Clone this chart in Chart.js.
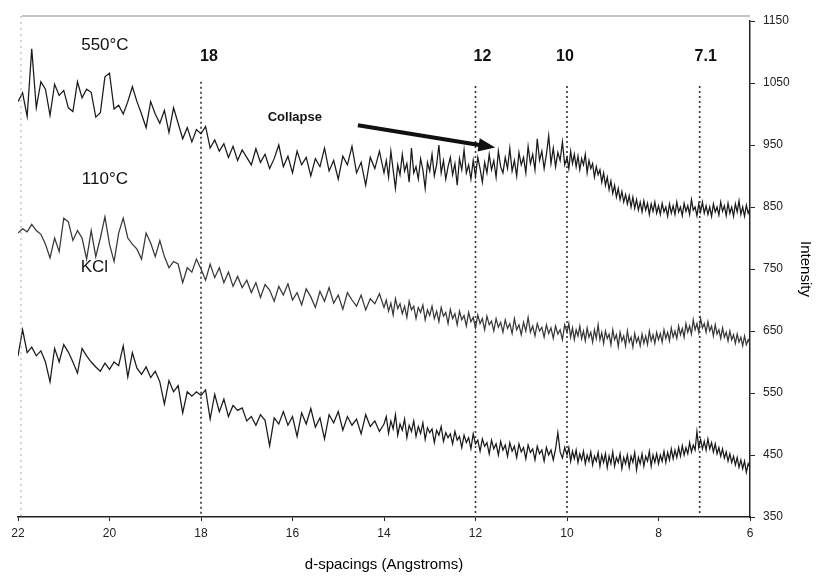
<!DOCTYPE html>
<html>
<head>
<meta charset="utf-8">
<script src="https://cdn.jsdelivr.net/npm/chart.js@4.4.1/dist/chart.umd.min.js"></script>
<style>
  html, body { margin: 0; padding: 0; background: #fff; }
  #wrap { width: 827px; height: 579px; }
</style>
</head>
<body>
<div id="wrap"><canvas id="xrd" width="827" height="579"></canvas></div>
<script>
// d-spacing positions (Angstroms), shared by all three scans
const dSpacing = [
  22, 21.9, 21.8, 21.7, 21.6, 21.5, 21.4, 21.3, 21.2, 21.1,
  21, 20.9, 20.8, 20.7, 20.6, 20.5, 20.4, 20.3, 20.2, 20.1,
  20, 19.9, 19.8, 19.7, 19.6, 19.5, 19.4, 19.3, 19.2, 19.1,
  19, 18.9, 18.8, 18.7, 18.6, 18.5, 18.4, 18.3, 18.2, 18.1,
  18, 17.9, 17.8, 17.7, 17.6, 17.5, 17.4, 17.3, 17.2, 17.1,
  17, 16.9, 16.8, 16.7, 16.6, 16.5, 16.4, 16.3, 16.2, 16.1,
  16, 15.9, 15.8, 15.7, 15.6, 15.5, 15.4, 15.3, 15.2, 15.1,
  15, 14.9, 14.8, 14.7, 14.6, 14.5, 14.4, 14.3, 14.2, 14.1,
  14, 13.95, 13.9, 13.85, 13.8, 13.75, 13.7, 13.65, 13.6, 13.55,
  13.5, 13.45, 13.4, 13.35, 13.3, 13.25, 13.2, 13.15, 13.1, 13.05,
  13, 12.95, 12.9, 12.85, 12.8, 12.75, 12.7, 12.65, 12.6, 12.55,
  12.5, 12.45, 12.4, 12.35, 12.3, 12.25, 12.2, 12.15, 12.1, 12.05,
  12, 11.95, 11.9, 11.85, 11.8, 11.75, 11.7, 11.65, 11.6, 11.55,
  11.5, 11.45, 11.4, 11.35, 11.3, 11.25, 11.2, 11.15, 11.1, 11.05,
  11, 10.95, 10.9, 10.85, 10.8, 10.75, 10.7, 10.65, 10.6, 10.55,
  10.5, 10.45, 10.4, 10.35, 10.3, 10.25, 10.2, 10.15, 10.1, 10.05,
  10, 9.96, 9.92, 9.88, 9.84, 9.8, 9.76, 9.72, 9.68, 9.64,
  9.6, 9.56, 9.52, 9.48, 9.44, 9.4, 9.36, 9.32, 9.28, 9.24,
  9.2, 9.16, 9.12, 9.08, 9.04, 9, 8.96, 8.92, 8.88, 8.84,
  8.8, 8.76, 8.72, 8.68, 8.64, 8.6, 8.56, 8.52, 8.48, 8.44,
  8.4, 8.36, 8.32, 8.28, 8.24, 8.2, 8.16, 8.12, 8.08, 8.04,
  8, 7.96, 7.92, 7.88, 7.84, 7.8, 7.76, 7.72, 7.68, 7.64,
  7.6, 7.56, 7.52, 7.48, 7.44, 7.4, 7.36, 7.32, 7.28, 7.24,
  7.2, 7.16, 7.12, 7.08, 7.04, 7, 6.96, 6.92, 6.88, 6.84,
  6.8, 6.76, 6.72, 6.68, 6.64, 6.6, 6.56, 6.52, 6.48, 6.44,
  6.4, 6.36, 6.32, 6.28, 6.24, 6.2, 6.16, 6.12, 6.08, 6.04,
  6
];

// intensities, 550 C
const int550 = [
  1020, 1034, 996, 1105, 1010, 1052, 1040, 998, 1048, 1030,
  1038, 1010, 1004, 1052, 1026, 1040, 1035, 995, 1002, 1060,
  1066, 1008, 1014, 1000, 1020, 1044, 1020, 1000, 978, 1020,
  1000, 985, 1006, 970, 1010, 985, 960, 978, 955, 975,
  968, 980, 945, 958, 940, 952, 930, 948, 925, 942,
  930, 918, 944, 922, 935, 912, 928, 950, 915, 932,
  905, 940, 918, 930, 900, 928, 915, 945, 908, 925,
  895, 932, 918, 948, 905, 922, 885, 930, 912, 940,
  905, 925, 898, 940, 910, 880, 918, 902, 935, 908,
  920, 890, 945, 905, 915, 895, 928, 910, 880, 922,
  908, 935, 900, 918, 950, 905, 925, 895, 915, 930,
  902, 920, 885, 928, 910, 942, 905, 918, 895, 925,
  900, 930, 912, 890, 922, 905, 935, 910, 925, 898,
  940, 915, 905, 930, 912, 945, 908, 925, 900, 938,
  918, 930, 905, 948, 920, 935, 910, 960, 925, 940,
  912, 935, 965, 920, 945, 915, 938, 925, 955, 918,
  930, 912, 940, 920, 935, 915, 932, 910, 928, 918,
  935, 905, 925, 912, 920, 898, 915, 902, 910, 890,
  905, 885, 898, 878, 892, 872, 885, 866, 880, 862,
  875, 858, 870, 855, 868, 850, 866, 848, 862, 845,
  858, 842, 860, 845, 856, 838, 855, 843, 858, 840,
  852, 838, 856, 842, 850, 835, 855, 840, 852, 838,
  858, 842, 850, 836, 856, 843, 852, 838, 862, 845,
  850, 836, 855, 842, 858, 840, 852, 838, 850, 835,
  855, 842, 850, 837, 858, 843, 852, 836, 856, 840,
  850, 835, 855, 842, 860, 838, 850, 835, 853, 840,
  848
];

// 110 C
const int110 = [
  808, 815, 810, 822, 812, 806, 790, 768, 800, 778,
  832, 826, 796, 812, 800, 766, 812, 770, 800, 834,
  790, 762, 808, 832, 800, 790, 782, 766, 808, 792,
  770, 796, 770, 752, 762, 758, 728, 752, 745, 766,
  750, 732, 758, 736, 752, 728, 745, 722, 738, 720,
  732, 712, 728, 704, 725, 716, 698, 722, 708, 726,
  700, 712, 692, 718, 705, 688, 714, 698, 720, 695,
  708, 685, 712, 700, 690, 708, 684, 702, 694, 710,
  688, 700, 682, 695, 676, 702, 686, 694, 678, 690,
  672, 698, 684, 690, 670, 688, 680, 692, 668, 684,
  675, 690, 670, 682, 665, 688, 674, 680, 662, 685,
  670, 678, 660, 682, 668, 675, 658, 680, 665, 672,
  655, 676, 662, 670, 652, 674, 660, 666, 650, 670,
  656, 664, 648, 668, 654, 662, 646, 670, 652, 660,
  644, 664, 650, 672, 648, 658, 642, 662, 650, 656,
  640, 660, 646, 655, 638, 658, 645, 652, 636, 660,
  648, 662, 640, 655, 636, 652, 642, 658, 638, 650,
  634, 655, 640, 648, 632, 652, 638, 660, 636, 648,
  630, 650, 638, 645, 628, 652, 636, 644, 625, 648,
  634, 642, 626, 650, 632, 640, 624, 646, 632, 640,
  626, 645, 630, 642, 628, 650, 634, 644, 630, 648,
  636, 646, 632, 652, 638, 648, 634, 655, 640, 650,
  638, 658, 644, 654, 640, 662, 648, 658, 645, 668,
  652, 662, 648, 670, 655, 662, 648, 665, 650, 658,
  642, 660, 645, 652, 638, 655, 640, 648, 634, 650,
  636, 644, 630, 645, 632, 640, 626, 642, 628, 636,
  630
];

// KCl
const intKCl = [
  610, 652, 615, 624, 610, 618, 600, 568, 622, 600,
  628, 616, 600, 582, 622, 610, 600, 592, 585, 598,
  588, 600, 594, 626, 576, 615, 590, 580, 592, 575,
  585, 568, 532, 570, 552, 562, 518, 552, 545, 552,
  546, 555, 508, 548, 520, 540, 512, 530, 522, 526,
  505, 512, 498, 515, 506, 465, 510, 500, 520, 498,
  512, 480, 518, 500, 525, 495, 510, 476, 515, 502,
  520, 490, 512, 498, 508, 484, 515, 496, 505, 488,
  500, 512, 485, 505, 492, 515, 482, 500, 490, 508,
  478, 498, 488, 505, 480, 496, 485, 502, 475, 494,
  486, 492, 470, 490, 482, 496, 472, 486, 478, 484,
  468, 488, 474, 480, 462, 482, 470, 478, 460, 484,
  468, 474, 456, 476, 464, 470, 452, 474, 460, 468,
  450, 472, 458, 466, 448, 470, 456, 464, 446, 468,
  455, 462, 444, 466, 454, 460, 442, 464, 452, 458,
  440, 462, 450, 458, 442, 460, 486, 455, 445, 462,
  450, 462, 440, 456, 444, 458, 438, 452, 442, 456,
  436, 450, 440, 455, 434, 448, 440, 454, 432, 450,
  438, 452, 430, 448, 436, 455, 432, 446, 438, 452,
  428, 446, 436, 450, 430, 448, 438, 454, 426, 446,
  436, 452, 432, 448, 440, 456, 432, 450, 438, 452,
  436, 450, 440, 456, 438, 454, 442, 460, 444, 458,
  446, 462, 448, 465, 450, 462, 452, 470, 455, 466,
  458, 488, 462, 475, 460, 472, 458, 476, 460, 470,
  455, 468, 452, 462, 448, 460, 445, 455, 440, 452,
  438, 448, 434, 446, 430, 442, 428, 440, 422, 436,
  430
];

// reference d-spacings marked with dotted lines
const peakPositions = [18, 12, 10, 7.1];
const peakLabels = ["18", "12", "10", "7.1"];
const peakTop = [1052, 1045, 1045, 1045];

const FONT = "'Liberation Sans', Arial, sans-serif";
Chart.defaults.font.family = FONT;
Chart.defaults.color = "#222";

function toPoints(ys) {
  return ys.map((v, i) => ({ x: dSpacing[i], y: v }));
}

const scanStyle = (color) => ({
  borderColor: color,
  borderWidth: 1.25,
  pointRadius: 0,
  tension: 0,
  fill: false
});

const datasets = [
  { label: "550°C", data: toPoints(int550), ...scanStyle("#1a1a1a") },
  { label: "110°C", data: toPoints(int110), ...scanStyle("#383838") },
  { label: "KCl", data: toPoints(intKCl), ...scanStyle("#1a1a1a") }
];

peakPositions.forEach((d, i) => {
  datasets.push({
    label: "d=" + peakLabels[i],
    data: [{ x: d, y: peakTop[i] }, { x: d, y: 350 }],
    borderColor: "#333",
    borderWidth: 1.6,
    borderDash: [2, 3],
    pointRadius: 0,
    fill: false
  });
});

// text labels, arrow and the faint frame
const overlay = {
  id: "overlay",
  afterDatasetsDraw(chart) {
    const { ctx, chartArea: a, scales: { x, y } } = chart;
    ctx.save();

    ctx.lineWidth = 1;
    ctx.strokeStyle = "#8a8a8a";
    ctx.beginPath();
    ctx.moveTo(a.left + 4, a.top - 5);
    ctx.lineTo(a.right, a.top - 5);
    ctx.stroke();
    ctx.setLineDash([2, 4]);
    ctx.strokeStyle = "#aaa";
    ctx.beginPath();
    ctx.moveTo(a.left + 3, a.top - 5);
    ctx.lineTo(a.left + 3, a.bottom);
    ctx.stroke();
    ctx.setLineDash([]);

    ctx.fillStyle = "#111";
    ctx.textAlign = "center";
    ctx.textBaseline = "middle";

    // peak numbers
    ctx.font = "bold 16px " + FONT;
    const labelShift = [8, 7, -2, 6];
    peakPositions.forEach((d, i) => {
      ctx.fillText(peakLabels[i], x.getPixelForValue(d) + labelShift[i], y.getPixelForValue(1093));
    });

    // scan names
    ctx.font = "17px " + FONT;
    ctx.fillText("550°C", x.getPixelForValue(20.1), y.getPixelForValue(1110));
    ctx.fillText("110°C", x.getPixelForValue(20.1), y.getPixelForValue(894));
    ctx.fillText("KCl", x.getPixelForValue(20.33), y.getPixelForValue(752));

    ctx.font = "bold 13px " + FONT;
    ctx.fillText("Collapse", x.getPixelForValue(15.95), y.getPixelForValue(995));

    // arrow
    const x0 = x.getPixelForValue(14.57), y0 = y.getPixelForValue(982);
    const x1 = x.getPixelForValue(11.57), y1 = y.getPixelForValue(946);
    const ang = Math.atan2(y1 - y0, x1 - x0);
    const head = 18;
    ctx.strokeStyle = "#111";
    ctx.lineWidth = 4;
    ctx.beginPath();
    ctx.moveTo(x0, y0);
    ctx.lineTo(x1 - Math.cos(ang) * head * 0.8, y1 - Math.sin(ang) * head * 0.8);
    ctx.stroke();
    ctx.beginPath();
    ctx.moveTo(x1, y1);
    ctx.lineTo(x1 - head * Math.cos(ang - 0.38), y1 - head * Math.sin(ang - 0.38));
    ctx.lineTo(x1 - head * Math.cos(ang + 0.38), y1 - head * Math.sin(ang + 0.38));
    ctx.closePath();
    ctx.fill();

    ctx.restore();
  }
};

new Chart(document.getElementById("xrd"), {
  type: "line",
  data: { datasets },
  options: {
    responsive: false,
    animation: false,
    layout: { padding: { left: 18, top: 21, right: 0, bottom: 0 } },
    plugins: {
      legend: { display: false },
      tooltip: { enabled: false }
    },
    scales: {
      x: {
        type: "linear",
        reverse: true,
        min: 6,
        max: 22,
        ticks: { stepSize: 2, maxRotation: 0, padding: 5, color: "#222", font: { size: 12 } },
        grid: { drawOnChartArea: false, drawTicks: true, tickLength: 4, color: "#222" },
        border: { display: true, color: "#222", width: 1.5 },
        title: { display: true, text: "d-spacings (Angstroms)", color: "#000", font: { size: 15 }, padding: { top: 0, bottom: 5 } },
        afterFit: (s) => { s.height = 62; }
      },
      y: {
        position: "right",
        min: 350,
        max: 1150,
        ticks: { stepSize: 100, padding: 8, color: "#222", font: { size: 12 }, callback: (v) => String(v) },
        grid: { drawOnChartArea: false, drawTicks: true, tickLength: 5, color: "#222" },
        border: { display: true, color: "#222", width: 1.5 },
        title: { display: true, text: "Intensity", color: "#000", font: { size: 15 }, padding: { top: 13, bottom: 0 } },
        afterFit: (s) => { s.width = 77; }
      }
    }
  },
  plugins: [overlay]
});
</script>
</body>
</html>
